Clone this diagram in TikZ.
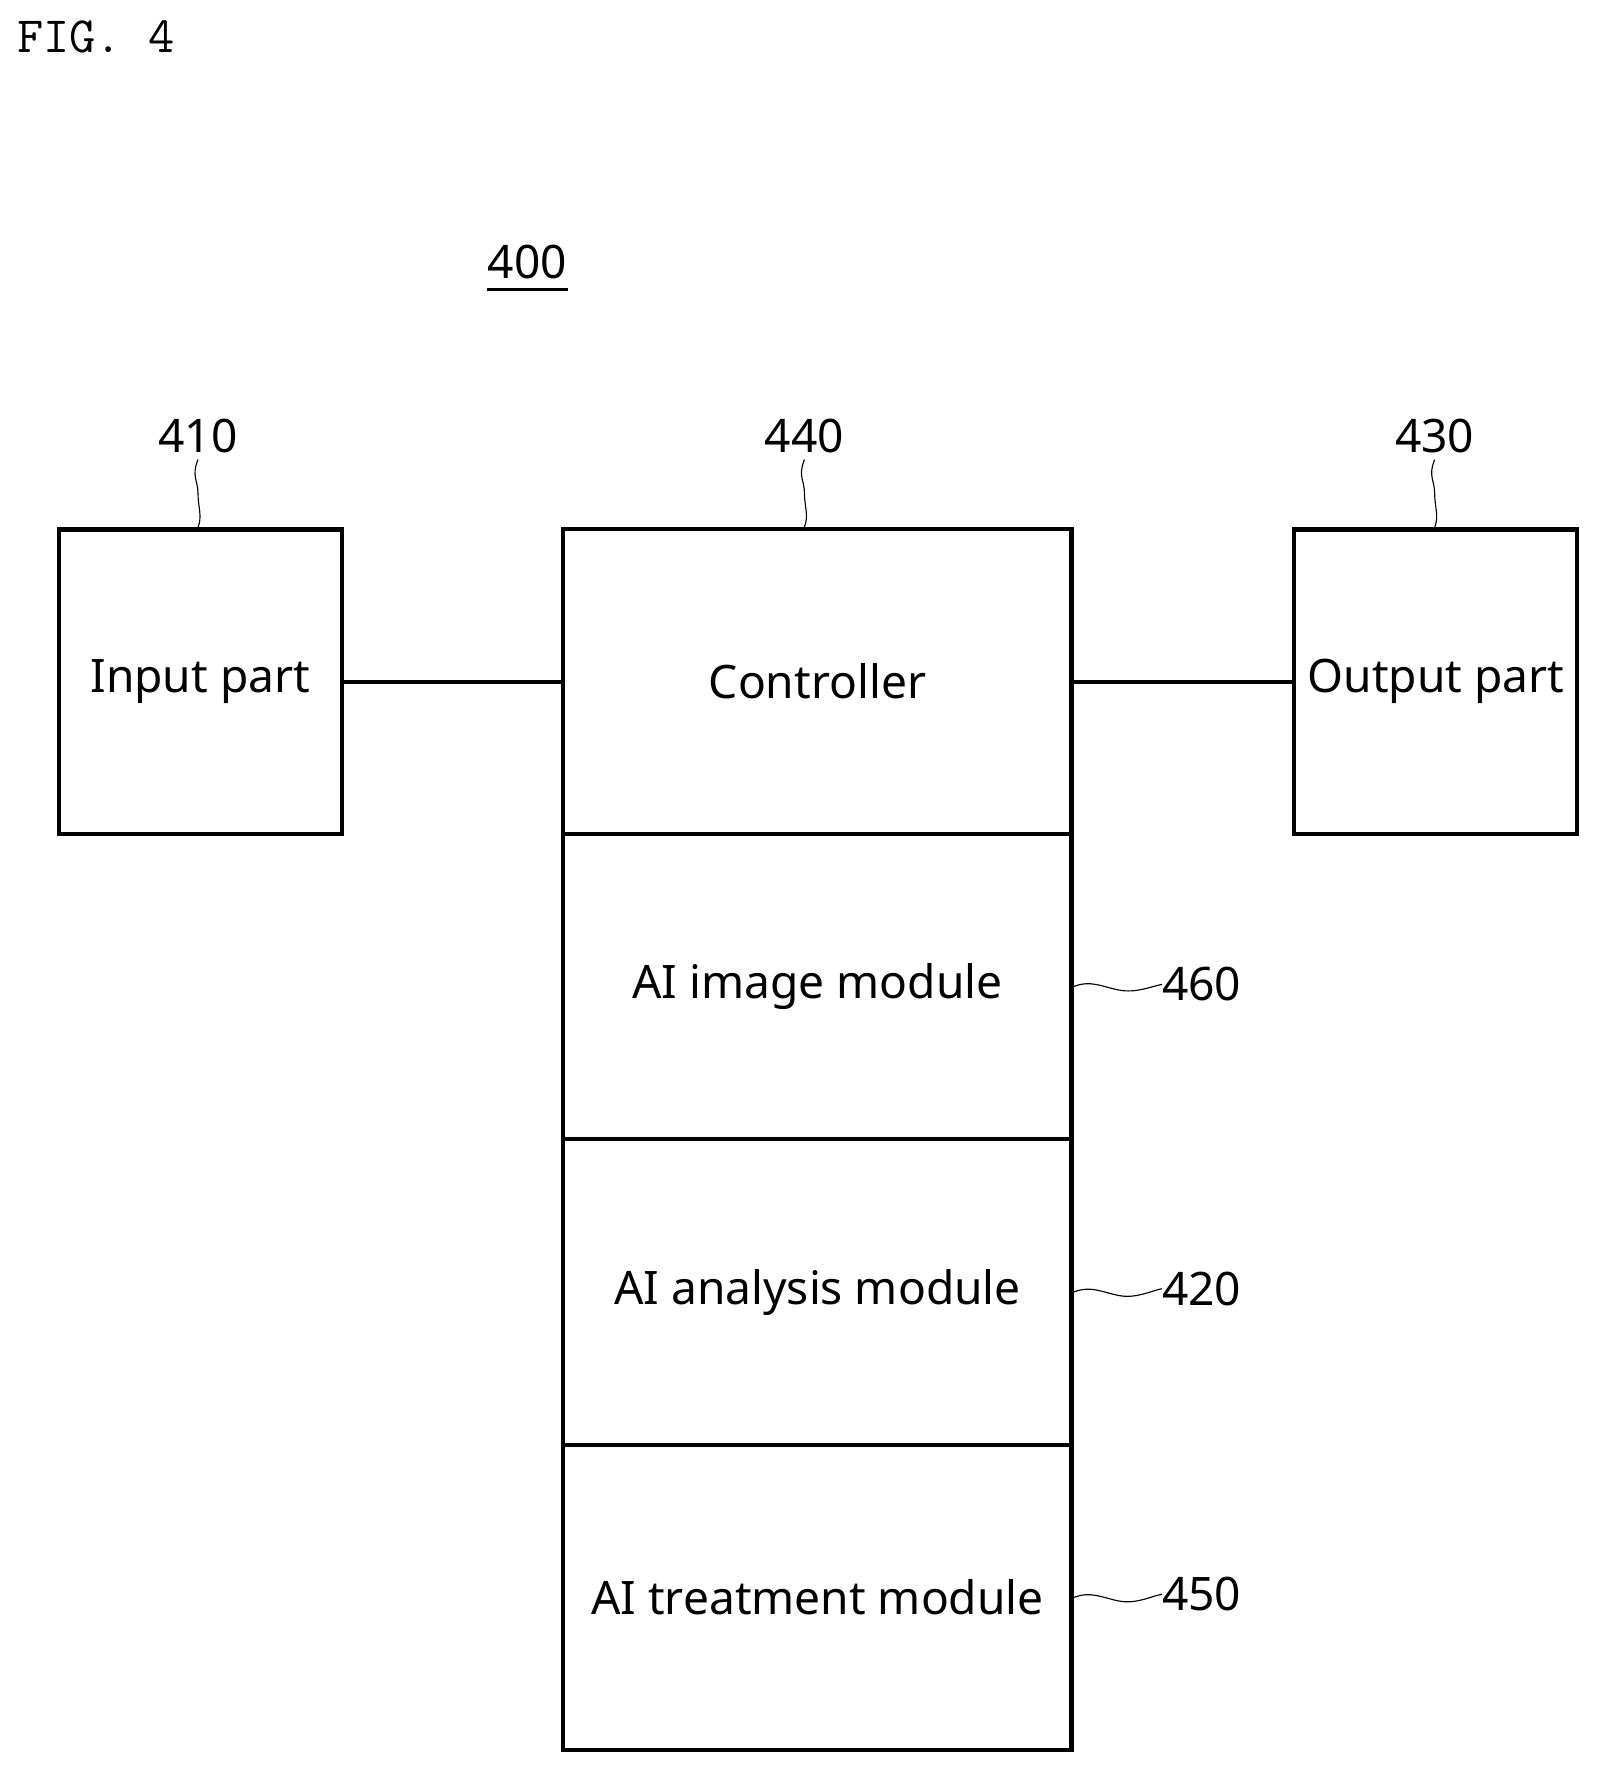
\documentclass[tikz,border=0pt]{standalone}
\usepackage{fontspec}
\setmainfont{Noto Sans}
\usetikzlibrary{calc}
\begin{document}
\begin{tikzpicture}[x=0.5mm,y=-0.5mm,
  box/.style={draw,line width=1.8mm,minimum width=125mm,minimum height=134.5mm,inner sep=0pt,font=\fontsize{58}{60}\selectfont},
  col/.style={draw,line width=1.8mm,minimum width=224.5mm,minimum height=135mm,inner sep=0pt,font=\fontsize{58}{60}\selectfont},
  num/.style={font=\fontsize{58}{60}\selectfont,inner sep=0pt},
  lead/.style={line width=0.5mm},
  conn/.style={line width=1.8mm}]
\useasboundingbox (0,0) rectangle (1420,1575);
\node[anchor=west,font=\ttfamily\fontsize{64}{66}\selectfont,inner sep=0pt] (fig) at (15,33) {FIG. 4};
\node[num] (n400) at (466,232) {400};
\draw[line width=1.2mm] (430,256) -- (502,256);
\node[box] (in) at (177,602.5) {Input part};
\node[box] (out) at (1269,602.5) {Output part};
\node[col] (ctl) at (722.5,602.5) {Controller};
\node[col] (img) at (722.5,872) {AI image module};
\node[col] (ana) at (722.5,1142) {AI analysis module};
\node[col] (trt) at (722.5,1412) {AI treatment module};
\draw[conn] (in.east) -- (ctl.west);
\draw[conn] (ctl.east) -- (out.west);
\node[num] (n410) at (175,385) {410};
\node[num] (n440) at (711,385) {440};
\node[num] (n430) at (1268,385) {430};
\foreach \a/\b in {n410/in,n440/ctl,n430/out}{
  \coordinate (t) at ([yshift=-3mm]\a.south);
  \draw[lead] (t) .. controls +(-6,15) and +(0,-12) .. ($ (t)!0.5!(t |- \b.north) $) .. controls +(0,12) and +(4,-10) .. (t |- \b.north);
}
\node[num,anchor=west] (n460) at (1027,870) {460};
\node[num,anchor=west] (n420) at (1027,1139) {420};
\node[num,anchor=west] (n450) at (1027,1409) {450};
\foreach \a/\b in {n460/img,n420/ana,n450/trt}{
  \draw[lead] (\b.east) .. controls +(15,-6) and +(-15,-3) .. ++(40,3) .. controls +(15,3) and +(-10,2) .. (\a.west);
}
\end{tikzpicture}
\end{document}
